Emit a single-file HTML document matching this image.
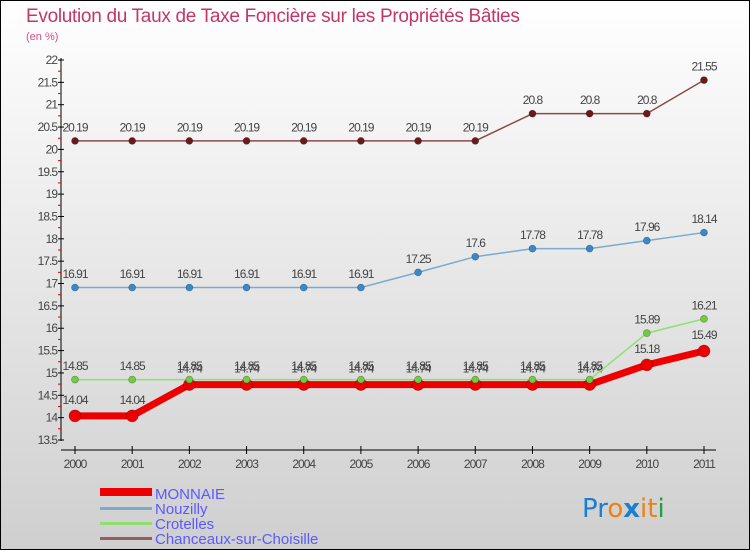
<!DOCTYPE html>
<html><head><meta charset="utf-8"><style>
html,body{margin:0;padding:0;}
body{width:750px;height:550px;overflow:hidden;font-family:"Liberation Sans",sans-serif;}
</style></head><body>
<svg id="chart" width="750" height="550" xmlns="http://www.w3.org/2000/svg" style="display:block">
<defs><linearGradient id="bg" x1="0" y1="0" x2="0" y2="1"><stop offset="0" stop-color="#ffffff"/><stop offset="1" stop-color="#cfcfcf"/></linearGradient></defs>
<rect x="0.5" y="0.5" width="749" height="549" fill="url(#bg)" stroke="#000" stroke-width="1"/>
<text x="26" y="22" font-size="19" fill="#c4356a" letter-spacing="-0.3">Evolution du Taux de Taxe Foncière sur les Propriétés Bâties</text>
<text x="26" y="40" font-size="11" fill="#d0508a">(en %)</text>
<g id="plot"></g>
<g font-size="15" fill="#5a5aff">
<rect x="100" y="488" width="52" height="8" fill="#ee0000"/>
<text x="155" y="499">MONNAIE</text>
<rect x="100" y="507" width="52" height="3" fill="#7aaad0"/>
<text x="155" y="514">Nouzilly</text>
<rect x="100" y="522" width="52" height="3" fill="#90e070"/>
<text x="155" y="529">Crotelles</text>
<rect x="100" y="537" width="52" height="3" fill="#906060"/>
<text x="155" y="544">Chanceaux-sur-Choisille</text>
</g>
<g font-size="26" font-family="'DejaVu Sans',sans-serif">
<text x="582" y="517"><tspan fill="#1a7fd0">Pr</tspan><tspan fill="#f08010">o</tspan><tspan fill="#1a7fd0" font-weight="bold">x</tspan><tspan fill="#f08010">i</tspan><tspan fill="#f08010">t</tspan><tspan fill="#20a040">i</tspan></text>
</g>
</svg>
<script>
const years=["2000","2001","2002","2003","2004","2005","2006","2007","2008","2009","2010","2011"];
const yTicks=[13.5,14,14.5,15,15.5,16,16.5,17,17.5,18,18.5,19,19.5,20,20.5,21,21.5,22];
const monnaie=[14.04,14.04,14.74,14.74,14.74,14.74,14.74,14.74,14.74,14.74,15.18,15.49];
const nouzilly=[16.91,16.91,16.91,16.91,16.91,16.91,17.25,17.6,17.78,17.78,17.96,18.14];
const crotelles=[14.85,14.85,14.85,14.85,14.85,14.85,14.85,14.85,14.85,14.85,15.89,16.21];
const chanceaux=[20.19,20.19,20.19,20.19,20.19,20.19,20.19,20.19,20.8,20.8,20.8,21.55];
const NS="http://www.w3.org/2000/svg";
const g=document.getElementById('plot');
const X=i=>75+i*(704-75)/(years.length-1);
const Y=v=>440-(v-13.5)*(440-60)/(22-13.5);
function mk(t,a,p){const e=document.createElementNS(NS,t);for(const k in a)e.setAttribute(k,a[k]);(p||g).appendChild(e);return e;}
const ax=mk('line',{x1:61,y1:58,x2:61,y2:441,stroke:'#000','stroke-width':1});


const xx=mk('line',{x1:61,y1:450,x2:716,y2:450,stroke:'#000','stroke-width':1});


yTicks.forEach((v,i)=>{
  const y=Y(v);
  mk('line',{x1:58,y1:y,x2:64,y2:y,stroke:'#000'});
  if(i<yTicks.length-1) mk('line',{x1:58,y1:Y(v+0.25),x2:61,y2:Y(v+0.25),stroke:'#e00000'});
  const t=mk('text',{x:57,y:y+4,'text-anchor':'end','font-size':12,fill:'#444','letter-spacing':'-1'});
  t.textContent=String(v);
  
  
});
years.forEach((yr,i)=>{
  mk('line',{x1:X(i),y1:446,x2:X(i),y2:454,stroke:'#000'});
  const t=mk('text',{x:X(i),y:468,'text-anchor':'middle','font-size':12,fill:'#444','letter-spacing':'-1'});
  t.textContent=yr;
  
  
});
function series(name,vals,color,lw,r,dot){
  const sg=mk('g',{});
  
  
  const pl=mk('polyline',{points:vals.map((v,i)=>X(i)+','+Y(v)).join(' '),fill:'none',stroke:color,'stroke-width':lw,'stroke-linejoin':'round'},sg);
  
  vals.forEach((v,i)=>{
    const c=mk('circle',{cx:X(i),cy:Y(v),r:r,fill:dot,stroke:'rgba(0,0,0,0.3)','stroke-width':0.7},sg);
    
    
    const t=mk('text',{x:X(i),y:Y(v)-(r+6),'text-anchor':'middle','font-size':12,fill:'#444','letter-spacing':'-1'},sg);
    t.textContent=String(v);
    
    
  });
}
series('chanceaux',chanceaux,'#8a4a4a',1.5,3.5,'#6a1a1a');
series('nouzilly',nouzilly,'#7aaad0',1.5,3.5,'#3a88c8');
series('monnaie',monnaie,'#ee0000',7,6,'#ee0000');
series('crotelles',crotelles,'#90e070',1.5,3.5,'#70cc40');
</script>
</body></html>
